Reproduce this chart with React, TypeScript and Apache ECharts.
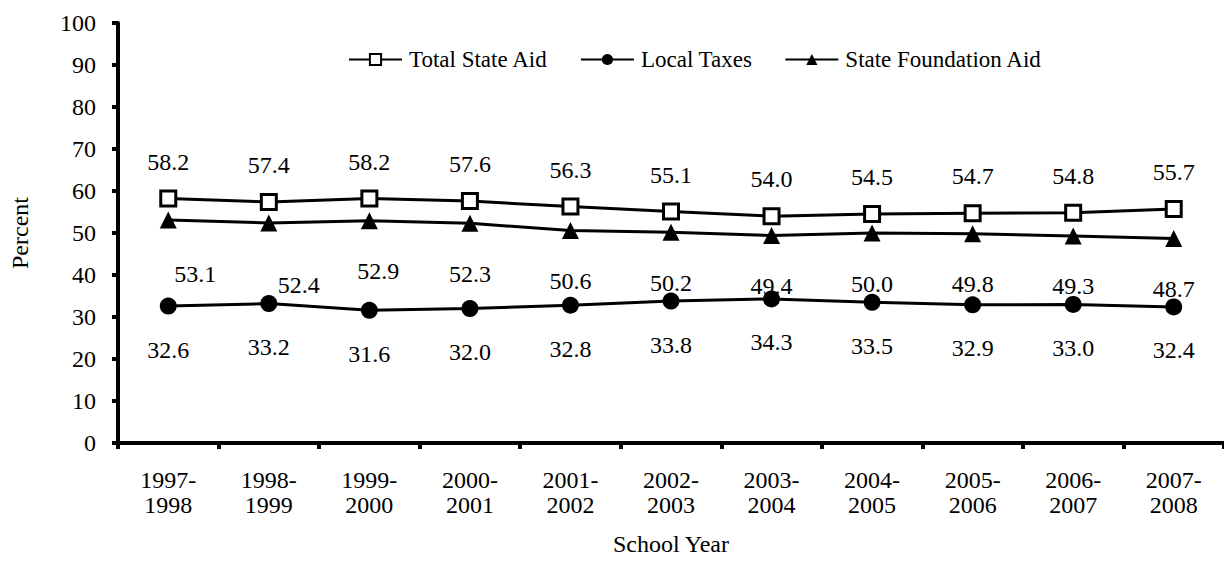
import React, { useEffect, useRef } from "react";
import * as echarts from "echarts";

const categories = [
  "1997-\n1998", "1998-\n1999", "1999-\n2000", "2000-\n2001", "2001-\n2002", "2002-\n2003",
  "2003-\n2004", "2004-\n2005", "2005-\n2006", "2006-\n2007", "2007-\n2008",
];
const totalStateAid = [58.2, 57.4, 58.2, 57.6, 56.3, 55.1, 54.0, 54.5, 54.7, 54.8, 55.7];
const localTaxes = [32.6, 33.2, 31.6, 32.0, 32.8, 33.8, 34.3, 33.5, 32.9, 33.0, 32.4];
const stateFoundationAid = [53.1, 52.4, 52.9, 52.3, 50.6, 50.2, 49.4, 50.0, 49.8, 49.3, 48.7];
const yTicks = [0, 10, 20, 30, 40, 50, 60, 70, 80, 90, 100];

const FONT = "'Liberation Serif', 'Times New Roman', serif";

export default function App() {
  const ref = useRef<HTMLDivElement>(null);
  useEffect(() => {
    const chart = echarts.init(ref.current!, null, { renderer: "svg" });
    const labelStyle = { fontFamily: FONT, fontSize: 24, color: "#000" };
    const foundationOffsets: Record<number, number[]> = { 0: [27, 4], 1: [30, 12], 2: [9, 0] };
    chart.setOption({
      animation: false,
      backgroundColor: "#fff",
      textStyle: { fontFamily: FONT, color: "#000" },
      legend: {
        top: 43,
        left: 343,
        itemWidth: 53,
        itemHeight: 14,
        itemGap: 32,
        textStyle: { fontFamily: FONT, fontSize: 23, color: "#000", padding: [0, 0, 0, 2] },
        data: ["Total State Aid", "Local Taxes", "State Foundation Aid"],
      },
      grid: { left: 111, right: -10, top: 23, bottom: 128, containLabel: false },
      xAxis: {
        type: "category",
        data: categories,
        boundaryGap: true,
        name: "School Year",
        nameLocation: "middle",
        nameGap: 89,
        nameTextStyle: { fontFamily: FONT, fontSize: 24, color: "#000" },
        axisLine: { lineStyle: { color: "#000", width: 4 } },
        axisTick: { show: true, length: 6, lineStyle: { color: "#000", width: 4 }, alignWithLabel: false },
        axisLabel: { fontFamily: FONT, fontSize: 24, color: "#000", margin: 24, lineHeight: 25, interval: 0 },
      },
      yAxis: {
        type: "value",
        min: 0,
        max: 100,
        interval: 10,
        name: "Percent",
        nameLocation: "middle",
        nameRotate: 90,
        nameGap: 86,
        nameTextStyle: { fontFamily: FONT, fontSize: 24, color: "#000" },
        splitLine: { show: false },
        axisLine: { show: true, lineStyle: { color: "#000", width: 4 } },
        axisTick: { show: true, length: 6, lineStyle: { color: "#000", width: 4 } },
        axisLabel: {
          fontFamily: FONT, fontSize: 24, color: "#000", margin: 22,
          formatter: (v: number) => (yTicks.includes(v) ? String(v) : ""),
        },
      },
      series: [
        {
          name: "Total State Aid",
          type: "line",
          data: totalStateAid,
          symbol: "rect",
          symbolSize: 15,
          itemStyle: { color: "#fff", borderColor: "#000", borderWidth: 3 },
          lineStyle: { color: "#000", width: 3 },
          label: { show: true, position: "top", distance: 16, formatter: (p: any) => p.value.toFixed(1), ...labelStyle },
          z: 3,
        },
        {
          name: "Local Taxes",
          type: "line",
          data: localTaxes,
          symbol: "circle",
          symbolSize: 17,
          itemStyle: { color: "#000", borderColor: "#000", borderWidth: 0 },
          lineStyle: { color: "#000", width: 3 },
          label: { show: true, position: "bottom", distance: 23, formatter: (p: any) => p.value.toFixed(1), ...labelStyle },
        },
        {
          name: "State Foundation Aid",
          type: "line",
          data: stateFoundationAid.map((v, i) =>
            foundationOffsets[i] ? { value: v, label: { offset: foundationOffsets[i] } } : v
          ),
          symbol: "triangle",
          symbolSize: 17,
          itemStyle: { color: "#000", borderColor: "#000", borderWidth: 0 },
          lineStyle: { color: "#000", width: 3 },
          label: { show: true, position: "bottom", distance: 30, formatter: (p: any) => p.value.toFixed(1), ...labelStyle },
        },
      ],
    });
    return () => chart.dispose();
  }, []);
  return <div ref={ref} style={{ width: 1224, height: 571, position: "absolute", left: 0, top: 0 }} />;
}
